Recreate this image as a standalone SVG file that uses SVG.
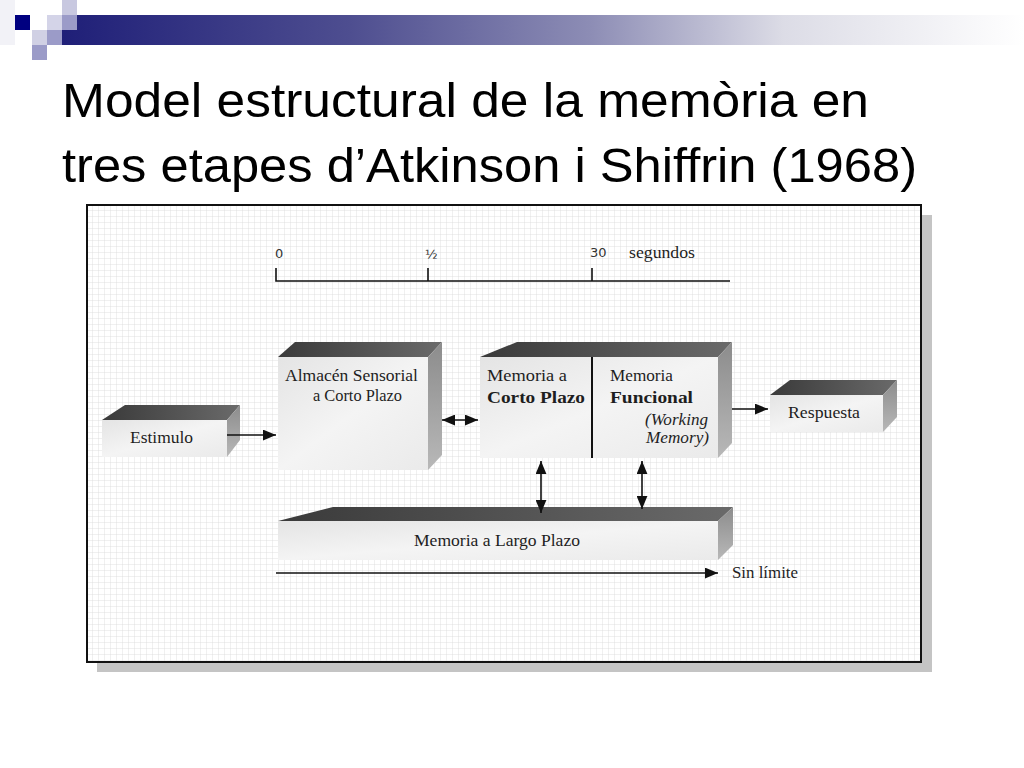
<svg xmlns="http://www.w3.org/2000/svg" width="1024" height="768" viewBox="0 0 1024 768">
<defs>
<linearGradient id="bar" x1="0" y1="0" x2="1" y2="0">
<stop offset="0" stop-color="#1f1f78"/>
<stop offset="0.3" stop-color="#4e4e90"/>
<stop offset="0.55" stop-color="#8d8db5"/>
<stop offset="0.75" stop-color="#dcdce6"/>
<stop offset="1" stop-color="#ffffff"/>
</linearGradient>
<linearGradient id="front" x1="0" y1="0" x2="1" y2="1">
<stop offset="0" stop-color="#e4e4e4"/>
<stop offset="0.5" stop-color="#f4f4f4"/>
<stop offset="1" stop-color="#eaeaea"/>
</linearGradient>
<linearGradient id="top" x1="0" y1="0" x2="1" y2="0">
<stop offset="0" stop-color="#3a3a3a"/>
<stop offset="1" stop-color="#6a6a6a"/>
</linearGradient>
<linearGradient id="side" x1="0" y1="0" x2="0" y2="1">
<stop offset="0" stop-color="#8c8c8c"/>
<stop offset="1" stop-color="#b8b8b8"/>
</linearGradient>
<pattern id="grid" width="6" height="6" patternUnits="userSpaceOnUse" x="87" y="205">
<path d="M6 0V6M0 6H6" fill="none" stroke="#d9d9d9" stroke-width="0.8"/>
</pattern>
<marker id="ah" viewBox="0 0 12 10" refX="12" refY="5" markerWidth="13" markerHeight="11" markerUnits="userSpaceOnUse" orient="auto-start-reverse">
<path d="M0 0L12 5L0 10Z" fill="#111"/>
</marker>
<style>
.front{fill:url(#front)}
.top{fill:url(#top)}
.side{fill:url(#side)}
.lbl{font-family:"Liberation Serif","Times New Roman",serif;fill:#1e1e1e;font-size:17px}
.num{font-family:"DejaVu Sans","Liberation Sans",sans-serif;font-size:13px;fill:#333}
.conn{stroke:#111;stroke-width:1.6;fill:none}
.title{font-family:"Liberation Sans",Arial,sans-serif;font-size:49px;fill:#000}
</style>
</defs>
<rect width="1024" height="768" fill="#fff"/>
<g id="header">
<rect x="62" y="15" width="962" height="30" fill="url(#bar)"/>
<rect x="0" y="0" width="15" height="45" fill="#f2f2f7"/>
<rect x="15" y="15" width="15" height="15" fill="#000080"/>
<rect x="62" y="0" width="15" height="15" fill="#c8c8e0"/>
<rect x="47" y="15" width="15" height="15" fill="#d4d4e8"/>
<rect x="62" y="15" width="15" height="15" fill="#9b9bc8"/>
<rect x="32" y="30" width="15" height="15" fill="#d0d0e4"/>
<rect x="47" y="30" width="15" height="15" fill="#9b9bc8"/>
<rect x="32" y="45" width="15" height="15" fill="#9b9bc8"/>
</g>
<g id="title">
<text class="title" x="62" y="117" textLength="807" lengthAdjust="spacingAndGlyphs">Model estructural de la memòria en</text>
<text class="title" x="62" y="182" textLength="855" lengthAdjust="spacingAndGlyphs">tres etapes d’Atkinson i Shiffrin (1968)</text>
</g>
<g id="frame">
<rect x="97" y="215" width="835" height="457" fill="#c4c4c4"/>
<rect x="87" y="205" width="834" height="457" fill="#fff"/>
<rect x="87" y="205" width="834" height="457" fill="url(#grid)" stroke="#111" stroke-width="2"/>
</g>
<g id="timeline">
<path class="conn" d="M276 268V281H730M428 268V281M592 268V281" stroke-width="1.5"/>
<text class="num" x="275" y="258">0</text>
<text class="num" x="425" y="259">½</text>
<text class="num" x="590" y="257">30</text>
<text class="lbl" x="629" y="258" font-size="16" textLength="66" lengthAdjust="spacingAndGlyphs">segundos</text>
</g>
<g id="estimulo">
<rect class="front" x="102" y="420" width="125" height="37"/>
<polygon class="top" points="102,420 125,405 240,405 227,420"/>
<polygon class="side" points="227,420 240,405 240,440 227,457"/>
<text class="lbl" x="130" y="443" textLength="63" lengthAdjust="spacingAndGlyphs">Estimulo</text>
</g>
<g id="almacen">
<rect class="front" x="278" y="357" width="150" height="113"/>
<polygon class="top" points="278,357 295,342 442,342 428,357"/>
<polygon class="side" points="428,357 442,342 442,455 428,470"/>
<text class="lbl" x="285" y="381" textLength="133" lengthAdjust="spacingAndGlyphs">Almacén Sensorial</text>
<text class="lbl" x="313" y="401" textLength="89" lengthAdjust="spacingAndGlyphs">a Corto Plazo</text>
</g>
<g id="memoria-corto">
<rect class="front" x="480" y="357" width="238" height="101"/>
<polygon class="top" points="480,357 517,342 732,342 718,357"/>
<polygon class="side" points="718,357 732,342 732,443 718,458"/>
<line x1="592" y1="357" x2="592" y2="458" stroke="#111" stroke-width="2"/>
<text class="lbl" x="487" y="381" font-size="16" textLength="80" lengthAdjust="spacingAndGlyphs">Memoria  a</text>
<text class="lbl" x="487" y="403" font-size="20" font-weight="bold" textLength="98" lengthAdjust="spacingAndGlyphs">Corto Plazo</text>
<text class="lbl" x="610" y="381" font-size="16" textLength="63" lengthAdjust="spacingAndGlyphs">Memoria</text>
<text class="lbl" x="610" y="403" font-size="20" font-weight="bold" textLength="83" lengthAdjust="spacingAndGlyphs">Funcional</text>
<text class="lbl" x="645" y="425" font-size="16" font-style="italic" textLength="63" lengthAdjust="spacingAndGlyphs">(Working</text>
<text class="lbl" x="646" y="443" font-size="16" font-style="italic" textLength="63" lengthAdjust="spacingAndGlyphs">Memory)</text>
</g>
<g id="respuesta">
<rect class="front" x="770" y="395" width="113" height="37"/>
<polygon class="top" points="770,395 790,380 897,380 883,395"/>
<polygon class="side" points="883,395 897,380 897,417 883,432"/>
<text class="lbl" x="788" y="418" textLength="72" lengthAdjust="spacingAndGlyphs">Respuesta</text>
</g>
<g id="memoria-largo">
<rect class="front" x="278" y="521" width="440" height="39"/>
<polygon class="top" points="278,521 333,507 733,507 718,521"/>
<polygon class="side" points="718,521 733,507 733,545 718,560"/>
<text class="lbl" x="414" y="546" textLength="166" lengthAdjust="spacingAndGlyphs">Memoria a Largo Plazo</text>
</g>
<g id="connectors">
<line class="conn" x1="227" y1="435" x2="276" y2="435" marker-end="url(#ah)"/>
<line class="conn" x1="442" y1="420" x2="478" y2="420" marker-start="url(#ah)" marker-end="url(#ah)"/>
<line class="conn" x1="732" y1="409" x2="768" y2="409" marker-end="url(#ah)"/>
<line class="conn" x1="541" y1="461" x2="541" y2="513" marker-start="url(#ah)" marker-end="url(#ah)"/>
<line class="conn" x1="642" y1="461" x2="642" y2="509" marker-start="url(#ah)" marker-end="url(#ah)"/>
<line class="conn" x1="276" y1="573" x2="718" y2="573" marker-end="url(#ah)"/>
</g>
<text class="lbl" x="732" y="578" textLength="66" lengthAdjust="spacingAndGlyphs">Sin límite</text>
</svg>
